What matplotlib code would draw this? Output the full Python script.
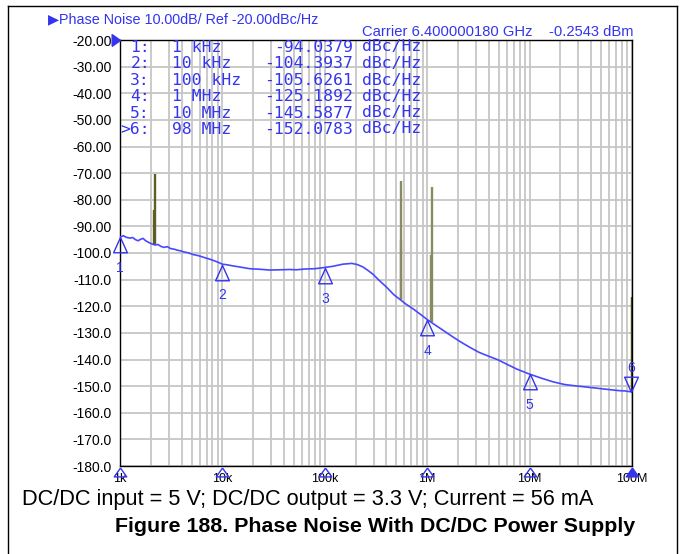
import numpy as np
import matplotlib
matplotlib.use("Agg")
import matplotlib.pyplot as plt
from matplotlib.lines import Line2D

# trace data: offset frequency (Hz) vs phase noise (dBc/Hz)
freq_hz = [1000, 1080, 1150, 1250, 1330, 1420, 1500, 1580, 1680, 1780, 1900, 2050,
           2200, 2350, 2500, 2700, 2900, 3100, 3400, 3600, 3900, 4200, 4600, 5200,
           5700, 6300, 6900, 7500, 8300, 9100, 10e3, 11e3, 12.5e3, 15e3, 18.5e3,
           23e3, 29e3, 37e3, 45e3, 53e3, 65e3, 80e3, 97e3, 120e3, 150e3, 184e3,
           210e3, 237e3, 265e3, 296e3, 340e3, 405e3, 470e3, 540e3, 620e3, 730e3,
           850e3, 1.0e6, 1.15e6, 1.4e6, 1.7e6, 2.1e6, 2.6e6, 3.2e6, 4.0e6, 4.9e6,
           6.0e6, 7.5e6, 10e6, 13e6, 17e6, 22e6, 28e6, 35e6, 46e6, 60e6, 75e6,
           85e6, 92e6, 98e6]
noise_dbc = [-94.0, -93.5, -94.1, -94.4, -94.2, -95.0, -95.4, -94.9, -94.5, -95.4,
             -96.0, -96.6, -97.0, -96.8, -97.5, -97.9, -97.6, -98.3, -98.6, -98.9,
             -99.2, -99.6, -99.9, -100.6, -100.9, -101.4, -101.9, -102.3, -102.9,
             -103.5, -104.2, -104.4, -104.8, -105.3, -105.9, -106.1, -106.4, -106.3,
             -106.2, -106.3, -106.0, -105.9, -105.5, -105.0, -104.2, -103.9, -104.4,
             -105.3, -106.6, -108.0, -110.3, -113.0, -115.6, -117.4, -119.2, -121.0,
             -122.9, -125.0, -126.6, -128.8, -131.0, -133.3, -135.4, -137.3, -138.8,
             -140.1, -141.8, -143.6, -145.5, -147.0, -148.4, -149.4, -149.9, -150.3,
             -150.8, -151.3, -151.7, -151.8, -152.0, -152.1]

# spurs: frequency, top level, bottom level
spur_freq = [2170, 2200, 550e3, 560e3, 1.09e6, 1.105e6, 99.6e6]
spur_top = [-84.0, -70.5, -95.2, -73.0, -100.6, -75.2, -116.5]
spur_base = [-96.9, -97.0, -117.2, -117.6, -125.9, -126.1, -152.1]
spur_colors = ['#5e5e22', '#5e5e22', '#8a8a60', '#8a8a60', '#8a8a60', '#8a8a60', '#3c3c10']

# markers
marker_num = ['1', '2', '3', '4', '5', '6']
marker_freq = [1e3, 10e3, 100e3, 1e6, 10e6, 98e6]
marker_dbc = [-94.0379, -104.3937, -105.6261, -125.1892, -145.5877, -152.0783]
marker_freq_txt = ['1 kHz', '10 kHz', '100 kHz', '1 MHz', '10 MHz', '98 MHz']

xtick_pos = [1e3, 1e4, 1e5, 1e6, 1e7, 1e8]
xtick_labels = ['1k', '10k', '100k', '1M', '10M', '100M']
ytick_pos = list(range(-20, -181, -10))
ytick_labels = ['%.2f' % v if v > -100 else '%.1f' % v for v in ytick_pos]

BLUE = '#3434ee'
TRACE = '#4848ff'
W, H = 684, 554


def px(x, y):
    # pixel position -> figure fraction
    return x / W, 1 - y / H


fig = plt.figure(figsize=(6.84, 5.54), dpi=100)
fig.patch.set_facecolor('white')

# outer frame
frame_kw = dict(color='black', lw=1.0, transform=fig.transFigure)
fig.lines.append(Line2D([8 / W, 8 / W], [0, 1 - 6 / H], **frame_kw))
fig.lines.append(Line2D([677 / W, 677 / W], [0, 1 - 6 / H], **frame_kw))
fig.lines.append(Line2D([8 / W, 677 / W], [1 - 6 / H, 1 - 6 / H], **frame_kw))

ax = fig.add_axes([120 / W, (H - 466) / H, 512 / W, 426 / H])
ax.set_xscale('log')
ax.set_xlim(1e3, 1e8)
ax.set_ylim(-180, -20)

# grid
minor = [m * 10 ** d for d in range(3, 8) for m in range(2, 10)]
for f in minor + xtick_pos:
    ax.axvline(f, color='#c6c6c6', lw=1.3, zorder=0)
for v in ytick_pos:
    ax.axhline(v, color='#c6c6c6', lw=1.3, zorder=0)

ax.set_xticks(xtick_pos)
ax.set_xticklabels(xtick_labels, fontsize=9, family='Liberation Sans')
ax.xaxis.set_minor_locator(matplotlib.ticker.NullLocator())
ax.set_yticks(ytick_pos)
ax.set_yticklabels(ytick_labels, fontsize=10, family='Liberation Sans')
ax.tick_params(length=0, pad=5)
ax.tick_params(axis='y', pad=6)
for s in ax.spines.values():
    s.set_linewidth(1.0)
    s.set_color('black')

# spurs
for f, t, b, c in zip(spur_freq, spur_top, spur_base, spur_colors):
    ax.plot([f, f], [b, t], color=c, lw=1.7, zorder=3, solid_capstyle='butt')

# trace
ax.plot(freq_hz, noise_dbc, color=TRACE, lw=1.2, zorder=4)

# marker triangles
tri_up = [(0, 0), (-0.45, -1), (0.45, -1), (0, 0)]
tri_dn = [(0, 0), (-0.45, 1), (0.45, 1), (0, 0)]
for n, f, v in zip(marker_num, marker_freq, marker_dbc):
    if n == '6':
        ax.plot([f], [v], marker=tri_dn, ms=22, mfc='none', mec=BLUE, mew=1.0,
                zorder=5, clip_on=False)
        ax.annotate(n, (f, v), xytext=(0, 17), textcoords='offset points',
                    ha='center', va='center', color=BLUE, fontsize=10,
                    family='Liberation Sans')
    else:
        ax.plot([f], [v], marker=tri_up, ms=22, mfc='none', mec=BLUE, mew=1.0,
                zorder=5, clip_on=False)
        ax.annotate(n, (f, v), xytext=(0, -22), textcoords='offset points',
                    ha='center', va='center', color=BLUE, fontsize=10,
                    family='Liberation Sans')

# stimulus triangles on the x axis
tri_axis = [(0, -0.15), (-0.6, -1), (0.6, -1), (0, -0.15)]
for f in xtick_pos:
    filled = f == xtick_pos[-1]
    ax.plot([f], [-180], marker=tri_axis, ms=15, mfc=BLUE if filled else 'none',
            mec=BLUE, mew=1.0, zorder=6, clip_on=False)
# reference level arrow
ax.plot([1e3], [-20], marker=[(-1, -0.7), (-1, 0.7), (0, 0), (-1, -0.7)], ms=12,
        color=BLUE, mec=BLUE, zorder=6, clip_on=False)

# header
fig.text(*px(48, 19), '\u25b6Phase Noise 10.00dB/ Ref -20.00dBc/Hz', color=BLUE,
         fontsize=10.4, family=['Liberation Sans', 'DejaVu Sans'], va='center', ha='left')
fig.text(*px(634, 32), 'Carrier 6.400000180 GHz    -0.2543 dBm', color=BLUE,
         fontsize=10.6, family='Liberation Sans', va='center', ha='right')

# marker table
row_y = [47, 63.5, 80, 96.5, 113, 129]
for i, (n, ft, v) in enumerate(zip(marker_num, marker_freq_txt, marker_dbc)):
    y = row_y[i]
    tag = ('>' if n == '6' else '') + n + ':'
    mono = dict(color=BLUE, fontsize=11.8, family='DejaVu Sans Mono', va='center')
    fig.text(*px(150, y), tag, ha='right', **mono)
    fig.text(*px(172, y), ft, ha='left', **mono)
    fig.text(*px(353, y), '%.4f' % v, ha='right', **mono)
    fig.text(*px(362, y), 'dBc/Hz', ha='left', **mono)

# captions
fig.text(*px(22, 500), 'DC/DC input = 5 V; DC/DC output = 3.3 V; Current = 56 mA',
         fontsize=15.7, family='Liberation Sans', va='center', ha='left')
fig.text(*px(115, 527), 'Figure 188. Phase Noise With DC/DC Power Supply',
         fontsize=15.4, fontweight='bold', family='Liberation Sans', va='center', ha='left')

fig.savefig('out.png', dpi=100)
